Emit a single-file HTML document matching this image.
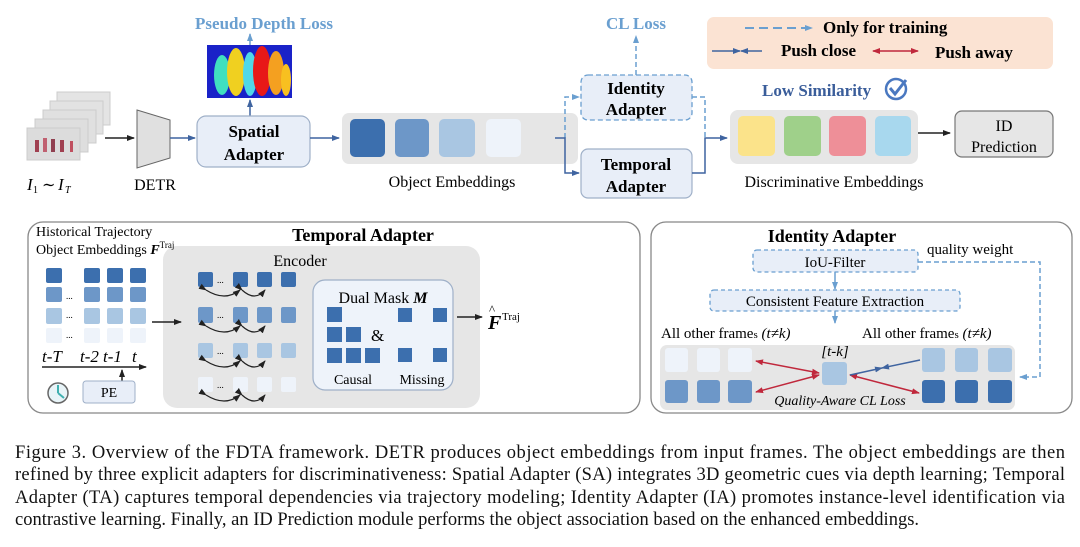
<!DOCTYPE html>
<html><head><meta charset="utf-8"><style>
html,body{margin:0;padding:0;background:#fff;}
svg{display:block;}
text{font-family:"Liberation Serif",serif;}
</style></head><body>
<svg width="1080" height="547" viewBox="0 0 1080 547" xmlns="http://www.w3.org/2000/svg">
<defs>
<marker id="ab" markerWidth="8" markerHeight="8" refX="7" refY="4" orient="auto" markerUnits="userSpaceOnUse"><path d="M0,1 L8,4 L0,7 z" fill="#3f64a0"/></marker>
<marker id="ak" markerWidth="8" markerHeight="8" refX="7" refY="4" orient="auto" markerUnits="userSpaceOnUse"><path d="M0,1 L8,4 L0,7 z" fill="#222"/></marker>
<marker id="al" markerWidth="8" markerHeight="8" refX="7" refY="4" orient="auto" markerUnits="userSpaceOnUse"><path d="M0,1 L8,4 L0,7 z" fill="#6a9fd0"/></marker>
<marker id="ar" markerWidth="8" markerHeight="8" refX="7" refY="4" orient="auto-start-reverse" markerUnits="userSpaceOnUse"><path d="M0,1 L8,4 L0,7 z" fill="#c0283c"/></marker>
</defs>

<g stroke="#ccc" stroke-width="1">
<rect x="57" y="92" width="53" height="33" fill="#e4e4e4"/>
<rect x="50" y="101" width="53" height="33" fill="#e2e2e2"/>
<rect x="43" y="110" width="53" height="33" fill="#e0e0e0"/>
<rect x="35" y="119" width="53" height="33" fill="#dedede"/>
<rect x="27" y="128" width="53" height="32" fill="#dcdcdc"/>
</g>
<g fill="#a04050"><rect x="35" y="140" width="4" height="12"/><rect x="43" y="138" width="4" height="14" fill="#c06070"/><rect x="51" y="139" width="4" height="13" fill="#904050"/><rect x="60" y="140" width="4" height="12"/><rect x="70" y="141" width="3" height="11" fill="#c05060"/></g>
<text x="27" y="190" font-size="17" font-style="italic">I</text><text x="33" y="193" font-size="10">1</text><text x="42" y="190" font-size="16">∼</text><text x="58" y="190" font-size="17" font-style="italic">I</text><text x="65" y="193" font-size="10" font-style="italic">T</text>
<line x1="105" y1="138" x2="134" y2="138" stroke="#222" stroke-width="1.5" marker-end="url(#ak)"/>
<path d="M137,110 L170,120 L170,158 L137,168 z" fill="#e0e0e0" stroke="#666"/>
<text x="155" y="190" font-size="16" text-anchor="middle">DETR</text>
<line x1="170" y1="138" x2="195" y2="138" stroke="#3f64a0" stroke-width="1.5" marker-end="url(#ab)"/>

<rect x="207" y="45" width="85" height="53" fill="#1a22c8"/>
<g>
<ellipse cx="222" cy="75" rx="8" ry="20" fill="#40e0c0"/>
<ellipse cx="236" cy="72" rx="9" ry="24" fill="#f0d020"/>
<ellipse cx="250" cy="74" rx="7" ry="22" fill="#50d8e8"/>
<ellipse cx="262" cy="71" rx="9" ry="25" fill="#e81818"/>
<ellipse cx="276" cy="73" rx="8" ry="22" fill="#f4a020"/>
<ellipse cx="286" cy="80" rx="5" ry="16" fill="#f8c020"/>
</g>
<line x1="250" y1="45" x2="250" y2="34" stroke="#6a9fd0" stroke-width="1.5" marker-end="url(#al)"/>
<text x="264" y="29" font-size="17" font-weight="bold" fill="#6a9fd0" text-anchor="middle">Pseudo Depth Loss</text>
<line x1="250" y1="116" x2="250" y2="100" stroke="#3f64a0" stroke-width="1.5" marker-end="url(#ab)"/>

<rect x="197" y="116" width="113" height="51" rx="9" fill="#e8eef8" stroke="#9fb0c8" stroke-width="1.2"/>
<text x="254" y="137" font-size="17" font-weight="bold" text-anchor="middle">Spatial</text>
<text x="254" y="160" font-size="17" font-weight="bold" text-anchor="middle">Adapter</text>
<line x1="310" y1="138" x2="339" y2="138" stroke="#3f64a0" stroke-width="1.5" marker-end="url(#ab)"/>

<rect x="342" y="113" width="236" height="51" rx="7" fill="#e6e6e6"/>
<rect x="350" y="119" width="35" height="38" rx="5" fill="#3c6fae"/>
<rect x="395" y="119" width="34" height="38" rx="5" fill="#6d97c8"/>
<rect x="439" y="119" width="36" height="38" rx="5" fill="#a9c6e2"/>
<rect x="486" y="119" width="35" height="38" rx="5" fill="#eef3fa"/>
<text x="452" y="187" font-size="16" text-anchor="middle">Object Embeddings</text>

<path d="M565,138 L565,97 L579,97" fill="none" stroke="#6a9fd0" stroke-width="1.5" stroke-dasharray="5,3" marker-end="url(#al)"/>
<path d="M555,138 L565,138 L565,173 L579,173" fill="none" stroke="#3f64a0" stroke-width="1.5" marker-end="url(#ab)"/>
<rect x="581" y="75" width="111" height="45" rx="7" fill="#e8eef8" stroke="#6a9fd0" stroke-width="1.3" stroke-dasharray="5,3"/>
<text x="636" y="94" font-size="17" font-weight="bold" text-anchor="middle">Identity</text>
<text x="636" y="115" font-size="17" font-weight="bold" text-anchor="middle">Adapter</text>
<line x1="636" y1="75" x2="636" y2="36" stroke="#6a9fd0" stroke-width="1.5" stroke-dasharray="5,3" marker-end="url(#al)"/>
<text x="636" y="29" font-size="17" font-weight="bold" fill="#6a9fd0" text-anchor="middle">CL Loss</text>
<rect x="581" y="149" width="111" height="49" rx="7" fill="#e8eef8" stroke="#9fb0c8" stroke-width="1.2"/>
<text x="636" y="170" font-size="17" font-weight="bold" text-anchor="middle">Temporal</text>
<text x="636" y="192" font-size="17" font-weight="bold" text-anchor="middle">Adapter</text>
<path d="M692,97 L705,97 L705,138" fill="none" stroke="#6a9fd0" stroke-width="1.5" stroke-dasharray="5,3"/>
<path d="M692,173 L705,173 L705,138 L727,138" fill="none" stroke="#3f64a0" stroke-width="1.5" marker-end="url(#ab)"/>

<rect x="730" y="110" width="188" height="54" rx="8" fill="#e6e6e6"/>
<rect x="738" y="116" width="37" height="40" rx="5" fill="#fbe38a"/>
<rect x="784" y="116" width="37" height="40" rx="5" fill="#9fd08a"/>
<rect x="829" y="116" width="37" height="40" rx="5" fill="#ee8f98"/>
<rect x="875" y="116" width="36" height="40" rx="5" fill="#a8d8ee"/>
<text x="834" y="187" font-size="16" text-anchor="middle">Discriminative Embeddings</text>
<text x="762" y="96" font-size="17" font-weight="bold" fill="#3a5d9a">Low Similarity</text>
<circle cx="896" cy="89" r="10" fill="none" stroke="#4a78c0" stroke-width="2.5"/>
<path d="M890,88 L895,94 L906,80" fill="none" stroke="#4a78c0" stroke-width="3"/>
<line x1="918" y1="133" x2="950" y2="133" stroke="#222" stroke-width="1.5" marker-end="url(#ak)"/>
<rect x="955" y="111" width="98" height="46" rx="7" fill="#e6e6e6" stroke="#777" stroke-width="1.2"/>
<text x="1004" y="131" font-size="16" text-anchor="middle">ID</text>
<text x="1004" y="152" font-size="16" text-anchor="middle">Prediction</text>

<rect x="707" y="17" width="346" height="52" rx="7" fill="#fbe3d3"/>
<line x1="745" y1="28" x2="812" y2="28" stroke="#6a9fd0" stroke-width="2" stroke-dasharray="9,5" marker-end="url(#al)"/>
<text x="823" y="33" font-size="17" font-weight="bold">Only for training</text>
<line x1="712" y1="51" x2="740" y2="51" stroke="#3f64a0" stroke-width="1.5" marker-end="url(#ab)"/>
<line x1="762" y1="51" x2="741" y2="51" stroke="#3f64a0" stroke-width="1.5" marker-end="url(#ab)"/>
<text x="781" y="56" font-size="17" font-weight="bold">Push close</text>
<line x1="873" y1="51" x2="918" y2="51" stroke="#c0283c" stroke-width="1.5" marker-start="url(#ar)" marker-end="url(#ar)"/>
<text x="935" y="58" font-size="17" font-weight="bold">Push away</text>

<rect x="28" y="222" width="612" height="191" rx="15" fill="#fff" stroke="#888" stroke-width="1.3"/>
<rect x="163" y="246" width="317" height="162" rx="14" fill="#e6e6e6"/>
<text x="36" y="236" font-size="14">Historical Trajectory</text>
<text x="36" y="254" font-size="14">Object Embeddings <tspan font-weight="bold" font-style="italic">F</tspan><tspan font-size="9" dy="-6">Traj</tspan></text>
<text x="363" y="241" font-size="18" font-weight="bold" text-anchor="middle">Temporal Adapter</text>
<g>
<rect x="46" y="268" width="16" height="15" rx="2" fill="#3c6fae"/><rect x="84" y="268" width="16" height="15" rx="2" fill="#3c6fae"/><rect x="107" y="268" width="16" height="15" rx="2" fill="#3c6fae"/><rect x="130" y="268" width="16" height="15" rx="2" fill="#3c6fae"/>
<rect x="46" y="287" width="16" height="15" rx="2" fill="#6d97c8"/><rect x="84" y="287" width="16" height="15" rx="2" fill="#6d97c8"/><rect x="107" y="287" width="16" height="15" rx="2" fill="#6d97c8"/><rect x="130" y="287" width="16" height="15" rx="2" fill="#6d97c8"/>
<rect x="46" y="308" width="16" height="16" rx="2" fill="#a9c6e2"/><rect x="84" y="308" width="16" height="16" rx="2" fill="#a9c6e2"/><rect x="107" y="308" width="16" height="16" rx="2" fill="#a9c6e2"/><rect x="130" y="308" width="16" height="16" rx="2" fill="#a9c6e2"/>
<rect x="46" y="328" width="16" height="15" rx="2" fill="#eef3fa"/><rect x="84" y="328" width="16" height="15" rx="2" fill="#eef3fa"/><rect x="107" y="328" width="16" height="15" rx="2" fill="#eef3fa"/><rect x="130" y="328" width="16" height="15" rx="2" fill="#eef3fa"/>
<text x="66" y="299" font-size="9">...</text><text x="66" y="318" font-size="9">...</text><text x="66" y="338" font-size="9">...</text>
</g>
<text x="42" y="362" font-size="17" font-style="italic">t-T</text>
<text x="80" y="362" font-size="17" font-style="italic">t-2</text>
<text x="103" y="362" font-size="17" font-style="italic">t-1</text>
<text x="132" y="362" font-size="17" font-style="italic">t</text>
<line x1="42" y1="367" x2="146" y2="367" stroke="#222" stroke-width="1.5" marker-end="url(#ak)"/>
<line x1="122" y1="383" x2="122" y2="370" stroke="#222" stroke-width="1.5" marker-end="url(#ak)"/>
<circle cx="58" cy="393" r="10" fill="#e8f4f8" stroke="#666" stroke-width="1.5"/>
<path d="M58,393 L58,385 M58,393 L64,398" stroke="#40b0b0" stroke-width="2"/>
<rect x="83" y="381" width="52" height="22" rx="3" fill="#e8eef8" stroke="#9fb0c8"/>
<text x="109" y="397" font-size="14" text-anchor="middle">PE</text>
<line x1="152" y1="322" x2="181" y2="322" stroke="#222" stroke-width="1.5" marker-end="url(#ak)"/>

<text x="300" y="266" font-size="16" text-anchor="middle">Encoder</text>
<g>
<rect x="198" y="272" width="15" height="15" rx="2" fill="#3c6fae"/><rect x="233" y="272" width="15" height="15" rx="2" fill="#3c6fae"/><rect x="257" y="272" width="15" height="15" rx="2" fill="#3c6fae"/><rect x="281" y="272" width="15" height="15" rx="2" fill="#3c6fae"/>
<rect x="198" y="307" width="15" height="16" rx="2" fill="#6d97c8"/><rect x="233" y="307" width="15" height="16" rx="2" fill="#6d97c8"/><rect x="257" y="307" width="15" height="16" rx="2" fill="#6d97c8"/><rect x="281" y="307" width="15" height="16" rx="2" fill="#6d97c8"/>
<rect x="198" y="343" width="15" height="15" rx="2" fill="#a9c6e2"/><rect x="233" y="343" width="15" height="15" rx="2" fill="#a9c6e2"/><rect x="257" y="343" width="15" height="15" rx="2" fill="#a9c6e2"/><rect x="281" y="343" width="15" height="15" rx="2" fill="#a9c6e2"/>
<rect x="198" y="377" width="15" height="15" rx="2" fill="#eef3fa"/><rect x="233" y="377" width="15" height="15" rx="2" fill="#eef3fa"/><rect x="257" y="377" width="15" height="15" rx="2" fill="#eef3fa"/><rect x="281" y="377" width="15" height="15" rx="2" fill="#eef3fa"/>
<text x="217" y="283" font-size="9">...</text><text x="217" y="318" font-size="9">...</text><text x="217" y="354" font-size="9">...</text><text x="217" y="388" font-size="9">...</text>
</g>
<g fill="none" stroke="#222" stroke-width="1.2" marker-start="url(#ak)" marker-end="url(#ak)">
<path d="M206,290 Q225,302 240,290"/><path d="M242,290 Q255,302 265,290"/>
<path d="M206,326 Q225,338 240,326"/><path d="M242,326 Q255,338 265,326"/>
<path d="M206,361 Q225,373 240,361"/><path d="M242,361 Q255,373 265,361"/>
<path d="M206,395 Q225,407 240,395"/><path d="M242,395 Q255,407 265,395"/>
</g>
<rect x="313" y="280" width="140" height="110" rx="12" fill="#eef3fa" stroke="#9fb0c8" stroke-width="1.2"/>
<text x="383" y="303" font-size="16" text-anchor="middle">Dual Mask <tspan font-weight="bold" font-style="italic">M</tspan></text>
<g fill="#3c6fae">
<rect x="327" y="307" width="15" height="15"/>
<rect x="327" y="327" width="15" height="15"/><rect x="346" y="327" width="15" height="15"/>
<rect x="327" y="348" width="15" height="15"/><rect x="346" y="348" width="15" height="15"/><rect x="365" y="348" width="15" height="15"/>
<rect x="398" y="308" width="14" height="14"/><rect x="433" y="308" width="14" height="14"/>
<rect x="398" y="348" width="14" height="14"/><rect x="433" y="348" width="14" height="14"/>
</g>
<text x="371" y="341" font-size="17">&amp;</text>
<text x="353" y="384" font-size="14" text-anchor="middle">Causal</text>
<text x="422" y="384" font-size="14" text-anchor="middle">Missing</text>
<line x1="457" y1="317" x2="482" y2="317" stroke="#222" stroke-width="1.5" marker-end="url(#ak)"/>
<text x="488" y="329" font-size="20" font-weight="bold" font-style="italic">F</text><text x="489" y="314" font-size="13">^</text>
<text x="502" y="320" font-size="11">Traj</text>

<rect x="651" y="222" width="421" height="191" rx="15" fill="#fff" stroke="#888" stroke-width="1.3"/>
<text x="832" y="242" font-size="18" font-weight="bold" text-anchor="middle">Identity Adapter</text>
<rect x="753" y="250" width="165" height="22" rx="4" fill="#e8eef8" stroke="#6a9fd0" stroke-width="1.3" stroke-dasharray="4,3"/>
<text x="835" y="267" font-size="15" text-anchor="middle">IoU-Filter</text>
<text x="927" y="254" font-size="15">quality weight</text>
<path d="M918,262 L1040,262 L1040,377 L1020,377" fill="none" stroke="#6a9fd0" stroke-width="1.5" stroke-dasharray="5,3" marker-end="url(#al)"/>
<line x1="835" y1="272" x2="835" y2="289" stroke="#6a9fd0" stroke-width="1.5" marker-end="url(#al)"/>
<rect x="710" y="290" width="250" height="21" rx="4" fill="#e8eef8" stroke="#6a9fd0" stroke-width="1.3" stroke-dasharray="4,3"/>
<text x="835" y="306" font-size="15" text-anchor="middle">Consistent Feature Extraction</text>
<line x1="835" y1="311" x2="835" y2="323" stroke="#6a9fd0" stroke-width="1.5" marker-end="url(#al)"/>
<text x="661" y="338" font-size="15">All other frame<tspan font-size="11">s</tspan> <tspan font-style="italic">(t≠k)</tspan></text>
<text x="862" y="338" font-size="15">All other frame<tspan font-size="11">s</tspan> <tspan font-style="italic">(t≠k)</tspan></text>
<rect x="660" y="345" width="355" height="65" rx="7" fill="#e6e6e6"/>
<g>
<rect x="665" y="348" width="23" height="24" rx="3" fill="#eef3fa"/><rect x="697" y="348" width="23" height="24" rx="3" fill="#eef3fa"/><rect x="728" y="348" width="24" height="24" rx="3" fill="#eef3fa"/>
<rect x="665" y="380" width="23" height="23" rx="3" fill="#6d97c8"/><rect x="697" y="380" width="23" height="23" rx="3" fill="#6d97c8"/><rect x="728" y="380" width="24" height="23" rx="3" fill="#6d97c8"/>
<rect x="922" y="348" width="23" height="24" rx="3" fill="#a9c6e2"/><rect x="955" y="348" width="23" height="24" rx="3" fill="#a9c6e2"/><rect x="988" y="348" width="24" height="24" rx="3" fill="#a9c6e2"/>
<rect x="922" y="380" width="23" height="23" rx="3" fill="#3c6fae"/><rect x="955" y="380" width="23" height="23" rx="3" fill="#3c6fae"/><rect x="988" y="380" width="24" height="23" rx="3" fill="#3c6fae"/>
<rect x="822" y="362" width="25" height="23" rx="3" fill="#a9c6e2"/>
</g>
<text x="835" y="356" font-size="15" font-style="italic" text-anchor="middle">[t-k]</text>
<g stroke="#c0283c" stroke-width="1.5" marker-start="url(#ar)" marker-end="url(#ar)">
<line x1="756" y1="361" x2="819" y2="373"/>
<line x1="756" y1="392" x2="819" y2="375"/>
<line x1="850" y1="375" x2="919" y2="393"/>
</g>
<line x1="920" y1="360" x2="882" y2="368" stroke="#3f64a0" stroke-width="1.5" marker-end="url(#ab)"/>
<line x1="850" y1="375" x2="882" y2="368" stroke="#3f64a0" stroke-width="1.5" marker-end="url(#ab)"/>
<text x="840" y="405" font-size="14" font-style="italic" text-anchor="middle">Quality-Aware CL Loss</text>

<g font-size="18.5" fill="#111">
<text x="15" y="458" textLength="1050" lengthAdjust="spacing">Figure 3.  Overview of the FDTA framework.  DETR produces object embeddings from input frames.  The object embeddings are then</text>
<text x="15" y="480" textLength="1050" lengthAdjust="spacing">refined by three explicit adapters for discriminativeness: Spatial Adapter (SA) integrates 3D geometric cues via depth learning; Temporal</text>
<text x="15" y="503" textLength="1050" lengthAdjust="spacing">Adapter (TA) captures temporal dependencies via trajectory modeling; Identity Adapter (IA) promotes instance-level identification via</text>
<text x="15" y="525">contrastive learning. Finally, an ID Prediction module performs the object association based on the enhanced embeddings.</text>
</g>
</svg>
</body></html>
